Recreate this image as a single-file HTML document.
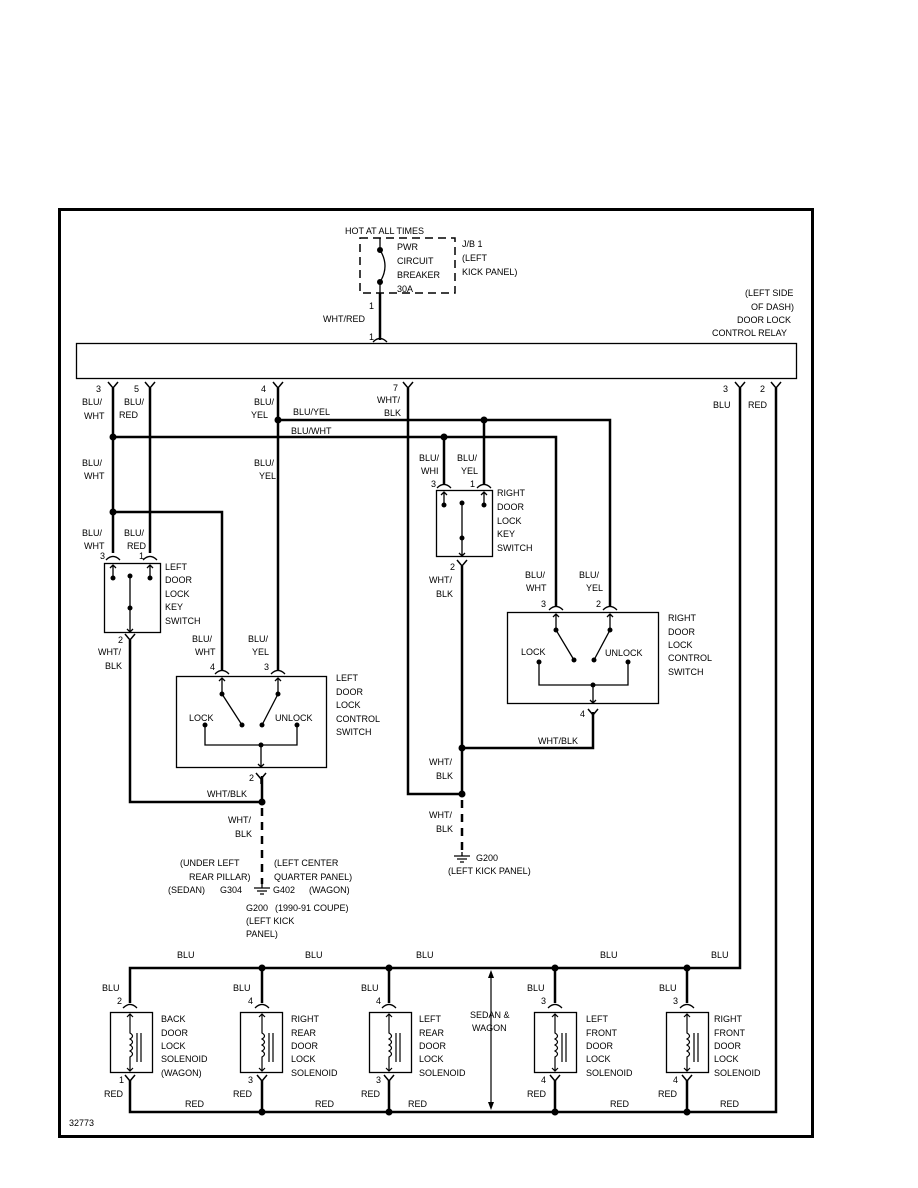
<!DOCTYPE html>
<html><head><meta charset="utf-8"><style>
html,body{margin:0;padding:0;background:#fff;}
svg{display:block;}
text{font-family:"Liberation Sans",sans-serif;font-size:9px;fill:#000;}
</style></head><body>
<svg width="918" height="1188" viewBox="0 0 918 1188" xmlns="http://www.w3.org/2000/svg">
<defs>
<g id="y"><path d="M-5,-3 L0,3 L5,-3 M0,3 L0,8" fill="none" stroke="#000" stroke-width="1.5"/></g>
<g id="a"><path d="M-7,4 Q0,-3 7,4" fill="none" stroke="#000" stroke-width="1.3"/></g>
</defs>
<rect x="59.5" y="209.5" width="753" height="927" fill="none" stroke="#000" stroke-width="3"/>
<g stroke="#000" stroke-width="2.5" fill="none">
<path d="M380,293 V340"/>
<path d="M113,388 V553 M150,388 V553 M278,388 V670 M408,388 V794 H462 M740,388 V968 H130 V1003 M776,388 V1112 H130 V1080"/>
<path d="M278,420 H610 V606 M113,437 H556 V606 M484,420 V484 M444,437 V484"/>
<path d="M113,512 H222 V670"/>
<path d="M130,640 V802 H262 V776"/>
<path d="M462,566 V794 M593,712 V748 H462"/>
<path d="M262,968 V1003 M389,968 V1003 M555,968 V1003 M687,968 V1003"/>
<path d="M262,1080 V1112 M389,1080 V1112 M555,1080 V1112 M687,1080 V1112"/>
</g>
<g stroke="#000" stroke-width="2.5" stroke-dasharray="8,6" fill="none">
<path d="M262,808 V884 M462,800 V852"/>
</g>
<path d="M360,238 H455 V293 H360 Z" fill="none" stroke="#000" stroke-width="1.5" stroke-dasharray="8,5"/>
<path d="M380,238 V250 M380,282 V293" stroke="#000" stroke-width="1.3"/>
<path d="M380,250 Q390,266 380,282" fill="none" stroke="#000" stroke-width="1.3"/>
<circle cx="380" cy="250" r="3"/><circle cx="380" cy="282" r="3"/>
<rect x="76.5" y="343.5" width="720" height="35" fill="none" stroke="#000" stroke-width="1.3"/>
<use href="#a" x="380" y="338"/>
<use href="#y" x="113" y="385"/><use href="#y" x="150" y="385"/><use href="#y" x="278" y="385"/><use href="#y" x="408" y="385"/><use href="#y" x="740" y="385"/><use href="#y" x="776" y="385"/>
<g>
<circle cx="278" cy="420" r="3.5"/><circle cx="484" cy="420" r="3.5"/><circle cx="113" cy="437" r="3.5"/><circle cx="444" cy="437" r="3.5"/><circle cx="113" cy="512" r="3.5"/>
<circle cx="262" cy="802" r="3.5"/><circle cx="462" cy="748" r="3.5"/><circle cx="462" cy="794" r="3.5"/>
<circle cx="262" cy="968" r="3.5"/><circle cx="389" cy="968" r="3.5"/><circle cx="555" cy="968" r="3.5"/><circle cx="687" cy="968" r="3.5"/>
<circle cx="262" cy="1112" r="3.5"/><circle cx="389" cy="1112" r="3.5"/><circle cx="555" cy="1112" r="3.5"/><circle cx="687" cy="1112" r="3.5"/>
</g>
<rect x="104.5" y="563.5" width="56" height="69" fill="none" stroke="#000" stroke-width="1.3"/>
<use href="#a" x="113" y="556"/><use href="#a" x="150" y="556"/><use href="#y" x="130" y="637"/>
<g stroke="#000" stroke-width="1.3" fill="none"><path d="M113,565 V578 M150,565 V578 M110,568 L113,565 L116,568 M147,568 L150,565 L153,568 M130,578 V632 M127,629 L130,632 L133,629"/></g>
<circle cx="113" cy="578" r="2.5"/><circle cx="150" cy="578" r="2.5"/><circle cx="130" cy="576" r="2.5"/><circle cx="130" cy="608" r="2.5"/>
<rect x="436.5" y="490.5" width="56" height="66" fill="none" stroke="#000" stroke-width="1.3"/>
<use href="#a" x="444" y="484"/><use href="#a" x="484" y="484"/><use href="#y" x="462" y="563"/>
<g stroke="#000" stroke-width="1.3" fill="none"><path d="M444,492 V505 M484,492 V505 M441,495 L444,492 L447,495 M481,495 L484,492 L487,495 M462,505 V556 M459,553 L462,556 L465,553"/></g>
<circle cx="444" cy="505" r="2.5"/><circle cx="484" cy="505" r="2.5"/><circle cx="462" cy="503" r="2.5"/><circle cx="462" cy="538" r="2.5"/>
<rect x="176.5" y="676.5" width="150" height="91" fill="none" stroke="#000" stroke-width="1.3"/>
<use href="#a" x="222" y="670"/><use href="#a" x="278" y="670"/><use href="#y" x="261" y="776"/>
<g stroke="#000" stroke-width="1.3" fill="none"><path d="M222,678 V694 M278,678 V694 M219,681 L222,678 L225,681 M275,681 L278,678 L281,681 M222,694 L242,725 M278,694 L262,725 M205,725 V745 H297 V725 M261,745 V767 M258,764 L261,767 L264,764"/></g>
<circle cx="222" cy="694" r="2.5"/><circle cx="278" cy="694" r="2.5"/><circle cx="242" cy="725" r="2.5"/><circle cx="262" cy="725" r="2.5"/><circle cx="205" cy="725" r="2.5"/><circle cx="297" cy="725" r="2.5"/><circle cx="261" cy="745" r="2.5"/>
<rect x="507.5" y="612.5" width="151" height="91" fill="none" stroke="#000" stroke-width="1.3"/>
<use href="#a" x="556" y="606"/><use href="#a" x="610" y="606"/><use href="#y" x="593" y="712"/>
<g stroke="#000" stroke-width="1.3" fill="none"><path d="M556,614 V630 M610,614 V630 M553,617 L556,614 L559,617 M607,617 L610,614 L613,617 M556,630 L574,660 M610,630 L594,660 M539,662 V685 H628 V662 M593,685 V703 M590,700 L593,703 L596,700"/></g>
<circle cx="556" cy="630" r="2.5"/><circle cx="610" cy="630" r="2.5"/><circle cx="574" cy="660" r="2.5"/><circle cx="594" cy="660" r="2.5"/><circle cx="539" cy="662" r="2.5"/><circle cx="628" cy="662" r="2.5"/><circle cx="593" cy="685" r="2.5"/>
<g stroke="#000" stroke-width="1.3"><path d="M254,888 H270 M257,891 H267 M260,894 H264 M262,884 V888"/><path d="M454,856 H470 M457,859 H467 M460,862 H464 M462,852 V856"/></g>
<g fill="none" stroke="#000" stroke-width="1.3">
<rect x="110.5" y="1012.5" width="42" height="60"/><rect x="240.5" y="1012.5" width="42" height="60"/><rect x="369.5" y="1012.5" width="42" height="60"/><rect x="534.5" y="1012.5" width="42" height="60"/><rect x="666.5" y="1012.5" width="42" height="60"/>
</g>
<g fill="none" stroke="#000" stroke-width="1.2">
<path d="M130,1014 V1033 q5,3 0,6 q5,3 0,6 q5,3 0,6 q5,3 0,6 V1071 M127,1017 L130,1014 L133,1017 M127,1068 L130,1071 L133,1068 M137,1033 V1062 M141,1033 V1062"/>
<path d="M262,1014 V1033 q5,3 0,6 q5,3 0,6 q5,3 0,6 q5,3 0,6 V1071 M259,1017 L262,1014 L265,1017 M259,1068 L262,1071 L265,1068 M269,1033 V1062 M273,1033 V1062"/>
<path d="M389,1014 V1033 q5,3 0,6 q5,3 0,6 q5,3 0,6 q5,3 0,6 V1071 M386,1017 L389,1014 L392,1017 M386,1068 L389,1071 L392,1068 M396,1033 V1062 M400,1033 V1062"/>
<path d="M555,1014 V1033 q5,3 0,6 q5,3 0,6 q5,3 0,6 q5,3 0,6 V1071 M552,1017 L555,1014 L558,1017 M552,1068 L555,1071 L558,1068 M562,1033 V1062 M566,1033 V1062"/>
<path d="M687,1014 V1033 q5,3 0,6 q5,3 0,6 q5,3 0,6 q5,3 0,6 V1071 M684,1017 L687,1014 L690,1017 M684,1068 L687,1071 L690,1068 M694,1033 V1062 M698,1033 V1062"/>
</g>
<use href="#a" x="130" y="1004"/><use href="#a" x="262" y="1004"/><use href="#a" x="389" y="1004"/><use href="#a" x="555" y="1004"/><use href="#a" x="687" y="1004"/>
<use href="#y" x="130" y="1078"/><use href="#y" x="262" y="1078"/><use href="#y" x="389" y="1078"/><use href="#y" x="555" y="1078"/><use href="#y" x="687" y="1078"/>
<path d="M491,976 V1104" stroke="#000" stroke-width="1.2"/>
<path d="M488,978 L491,970 L494,978 Z M488,1102 L491,1110 L494,1102 Z"/>
<text x="345" y="234">HOT AT ALL TIMES</text>
<text x="397" y="250">PWR</text><text x="397" y="264">CIRCUIT</text><text x="397" y="278">BREAKER</text><text x="397" y="292">30A</text>
<text x="462" y="247">J/B 1</text><text x="462" y="261">(LEFT</text><text x="462" y="275">KICK PANEL)</text>
<text x="369" y="309">1</text><text x="323" y="322">WHT/RED</text><text x="369" y="340">1</text>
<text x="745" y="296">(LEFT SIDE</text><text x="751" y="310">OF DASH)</text><text x="737" y="323">DOOR LOCK</text><text x="712" y="336">CONTROL RELAY</text>
<text x="96" y="392">3</text><text x="134" y="392">5</text><text x="261" y="392">4</text><text x="393" y="391">7</text><text x="723" y="392">3</text><text x="760" y="392">2</text>
<text x="82" y="405">BLU/</text><text x="84" y="419">WHT</text><text x="124" y="405">BLU/</text><text x="119" y="418">RED</text>
<text x="254" y="405">BLU/</text><text x="251" y="418">YEL</text><text x="377" y="403">WHT/</text><text x="384" y="416">BLK</text>
<text x="713" y="408">BLU</text><text x="748" y="408">RED</text>
<text x="293" y="415">BLU/YEL</text><text x="291" y="434">BLU/WHT</text>
<text x="82" y="466">BLU/</text><text x="84" y="479">WHT</text><text x="254" y="466">BLU/</text><text x="259" y="479">YEL</text>
<text x="419" y="461">BLU/</text><text x="421" y="474">WHI</text><text x="457" y="461">BLU/</text><text x="461" y="474">YEL</text>
<text x="431" y="487">3</text><text x="470" y="487">1</text>
<text x="497" y="496">RIGHT</text><text x="497" y="510">DOOR</text><text x="497" y="524">LOCK</text><text x="497" y="537">KEY</text><text x="497" y="551">SWITCH</text>
<text x="82" y="536">BLU/</text><text x="84" y="549">WHT</text><text x="124" y="536">BLU/</text><text x="127" y="549">RED</text>
<text x="100" y="559">3</text><text x="139" y="559">1</text>
<text x="165" y="570">LEFT</text><text x="165" y="583">DOOR</text><text x="165" y="597">LOCK</text><text x="165" y="610">KEY</text><text x="165" y="624">SWITCH</text>
<text x="450" y="570">2</text><text x="429" y="583">WHT/</text><text x="436" y="597">BLK</text>
<text x="525" y="578">BLU/</text><text x="526" y="591">WHT</text><text x="579" y="578">BLU/</text><text x="586" y="591">YEL</text>
<text x="541" y="607">3</text><text x="596" y="607">2</text>
<text x="668" y="621">RIGHT</text><text x="668" y="635">DOOR</text><text x="668" y="648">LOCK</text><text x="668" y="661">CONTROL</text><text x="668" y="675">SWITCH</text>
<text x="521" y="655">LOCK</text><text x="605" y="656">UNLOCK</text>
<text x="118" y="643">2</text><text x="98" y="655">WHT/</text><text x="105" y="669">BLK</text>
<text x="192" y="642">BLU/</text><text x="195" y="655">WHT</text><text x="248" y="642">BLU/</text><text x="252" y="655">YEL</text>
<text x="210" y="670">4</text><text x="264" y="670">3</text>
<text x="336" y="681">LEFT</text><text x="336" y="695">DOOR</text><text x="336" y="708">LOCK</text><text x="336" y="722">CONTROL</text><text x="336" y="735">SWITCH</text>
<text x="189" y="721">LOCK</text><text x="275" y="721">UNLOCK</text>
<text x="580" y="717">4</text><text x="538" y="744">WHT/BLK</text>
<text x="249" y="781">2</text><text x="207" y="797">WHT/BLK</text>
<text x="429" y="765">WHT/</text><text x="436" y="779">BLK</text>
<text x="429" y="818">WHT/</text><text x="436" y="832">BLK</text>
<text x="228" y="823">WHT/</text><text x="235" y="837">BLK</text>
<text x="180" y="866">(UNDER LEFT</text><text x="274" y="866">(LEFT CENTER</text>
<text x="189" y="880">REAR PILLAR)</text><text x="274" y="880">QUARTER PANEL)</text>
<text x="168" y="893">(SEDAN)</text><text x="220" y="893">G304</text><text x="273" y="893">G402</text><text x="309" y="893">(WAGON)</text>
<text x="246" y="911">G200</text><text x="275" y="911">(1990-91 COUPE)</text>
<text x="246" y="924">(LEFT KICK</text><text x="246" y="937">PANEL)</text>
<text x="476" y="861">G200</text><text x="448" y="874">(LEFT KICK PANEL)</text>
<text x="177" y="958">BLU</text><text x="305" y="958">BLU</text><text x="416" y="958">BLU</text><text x="600" y="958">BLU</text><text x="711" y="958">BLU</text>
<text x="102" y="991">BLU</text><text x="233" y="991">BLU</text><text x="361" y="991">BLU</text><text x="527" y="991">BLU</text><text x="659" y="991">BLU</text>
<text x="117" y="1004">2</text><text x="248" y="1004">4</text><text x="376" y="1004">4</text><text x="541" y="1004">3</text><text x="673" y="1004">3</text>
<text x="470" y="1018">SEDAN &amp;</text><text x="472" y="1031">WAGON</text>
<text x="161" y="1022">BACK</text><text x="161" y="1036">DOOR</text><text x="161" y="1049">LOCK</text><text x="161" y="1062">SOLENOID</text><text x="161" y="1076">(WAGON)</text>
<text x="291" y="1022">RIGHT</text><text x="291" y="1036">REAR</text><text x="291" y="1049">DOOR</text><text x="291" y="1062">LOCK</text><text x="291" y="1076">SOLENOID</text>
<text x="419" y="1022">LEFT</text><text x="419" y="1036">REAR</text><text x="419" y="1049">DOOR</text><text x="419" y="1062">LOCK</text><text x="419" y="1076">SOLENOID</text>
<text x="586" y="1022">LEFT</text><text x="586" y="1036">FRONT</text><text x="586" y="1049">DOOR</text><text x="586" y="1062">LOCK</text><text x="586" y="1076">SOLENOID</text>
<text x="714" y="1022">RIGHT</text><text x="714" y="1036">FRONT</text><text x="714" y="1049">DOOR</text><text x="714" y="1062">LOCK</text><text x="714" y="1076">SOLENOID</text>
<text x="119" y="1083">1</text><text x="248" y="1083">3</text><text x="376" y="1083">3</text><text x="541" y="1083">4</text><text x="673" y="1083">4</text>
<text x="104" y="1097">RED</text><text x="233" y="1097">RED</text><text x="361" y="1097">RED</text><text x="527" y="1097">RED</text><text x="658" y="1097">RED</text>
<text x="185" y="1107">RED</text><text x="315" y="1107">RED</text><text x="408" y="1107">RED</text><text x="610" y="1107">RED</text><text x="720" y="1107">RED</text>
<text x="69" y="1126">32773</text>
</svg>
</body></html>
